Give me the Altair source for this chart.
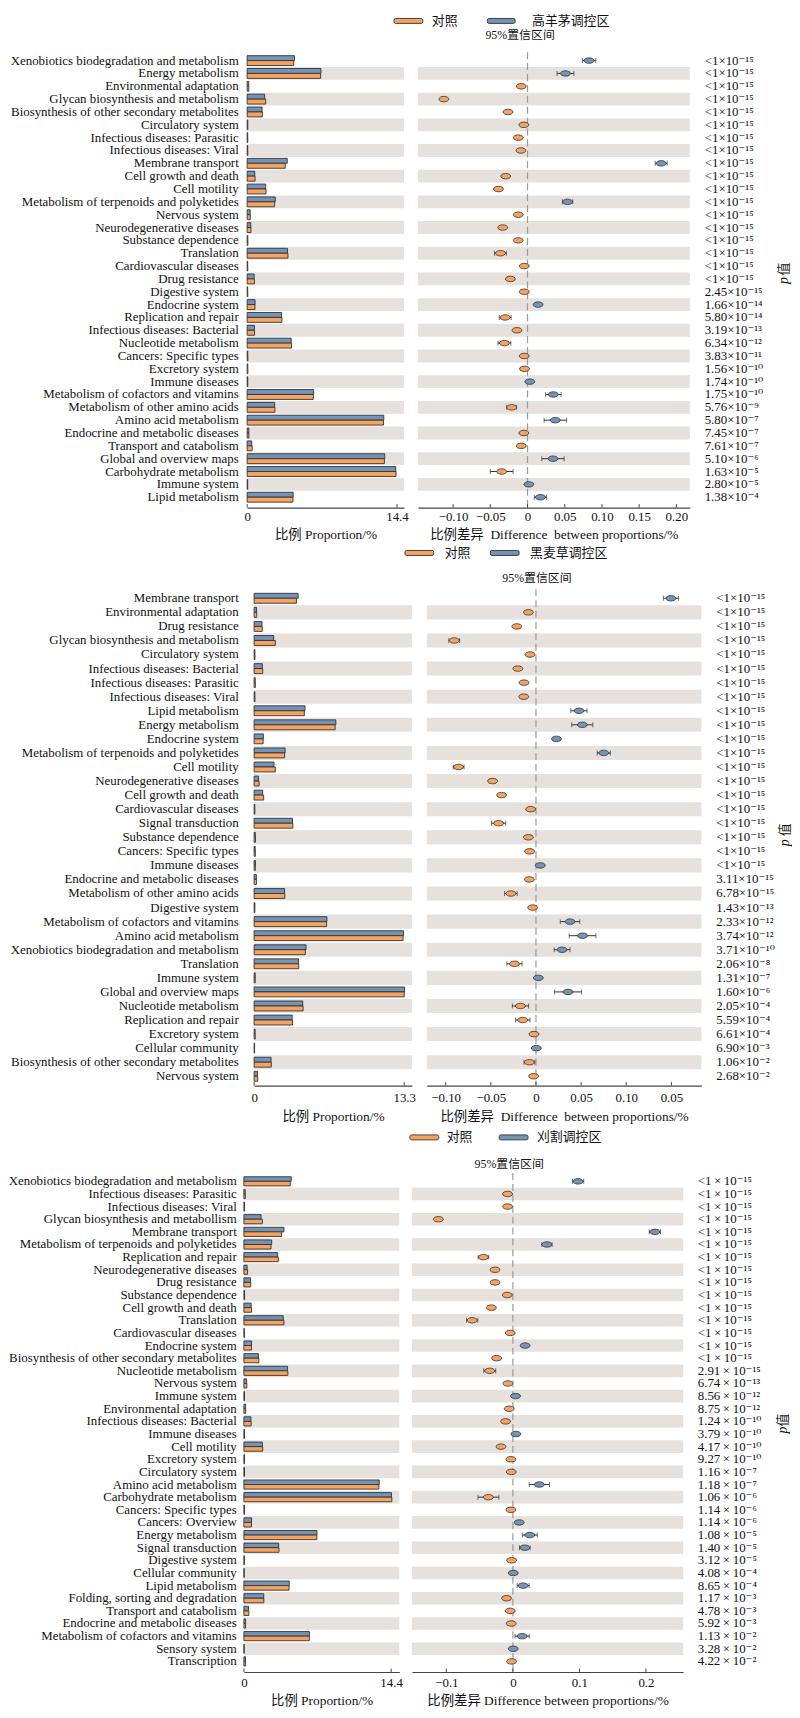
import altair as alt
import pandas as pd

SERIF = "Liberation Serif"
PFONT = "Liberation Serif, DejaVu Serif"
MIXED = "Liberation Serif, Noto Sans CJK SC"
CJK = "Noto Sans CJK SC"
ORANGE = "#F6A35F"
BLUE = "#7393B7"
EDGE = "#333333"
BAND = "#E6E1DD"
TXT = "#111111"
CTRL = "对照"
ELLIPSE = "M-1,0A1,0.55,0,1,0,1,0A1,0.55,0,1,0,-1,0Z"

# ---------------- panel 1 ----------------
group1 = "高羊茅调控区"
cats1 = ["Xenobiotics biodegradation and metabolism", "Energy metabolism", "Environmental adaptation",
         "Glycan biosynthesis and metabolism", "Biosynthesis of other secondary metabolites", "Circulatory system",
         "Infectious diseases: Parasitic", "Infectious diseases: Viral", "Membrane transport", "Cell growth and death",
         "Cell motility", "Metabolism of terpenoids and polyketides", "Nervous system", "Neurodegenerative diseases",
         "Substance dependence", "Translation", "Cardiovascular diseases", "Drug resistance", "Digestive system",
         "Endocrine system", "Replication and repair", "Infectious diseases: Bacterial", "Nucleotide metabolism",
         "Cancers: Specific types", "Excretory system", "Immune diseases", "Metabolism of cofactors and vitamins",
         "Metabolism of other amino acids", "Amino acid metabolism", "Endocrine and metabolic diseases",
         "Transport and catabolism", "Global and overview maps", "Carbohydrate metabolism", "Immune system",
         "Lipid metabolism"]
blue1 = [4.55, 7.09, 0.15, 1.68, 1.43, 0.06, 0.05, 0.05, 3.85, 0.73,
         1.78, 2.70, 0.29, 0.35, 0.06, 3.88, 0.05, 0.67, 0.05, 0.76,
         3.31, 0.70, 4.23, 0.06, 0.06, 0.06, 6.39, 2.64, 13.13, 0.16,
         0.44, 13.22, 14.28, 0.05, 4.42]
orange1 = [4.48, 7.06, 0.16, 1.78, 1.46, 0.06, 0.06, 0.06, 3.66, 0.76,
           1.81, 2.64, 0.30, 0.37, 0.07, 3.92, 0.06, 0.70, 0.06, 0.75,
           3.34, 0.71, 4.26, 0.07, 0.07, 0.06, 6.36, 2.67, 13.10, 0.17,
           0.48, 13.19, 14.31, 0.05, 4.40]
diff1 = [0.0827, 0.051, -0.0084, -0.1124, -0.0262, -0.0049, -0.0124, -0.0089, 0.1796, -0.0293,
         -0.039, 0.0538, -0.0124, -0.0333, -0.0124, -0.0364, -0.0044, -0.023, -0.0044, 0.0142,
         -0.030, -0.0142, -0.031, -0.0044, -0.004, 0.0031, 0.0347, -0.0213, 0.0373, -0.0049,
         -0.0084, 0.0342, -0.0347, 0.0018, 0.0173]
ci1 = [0.009, 0.0113, 0.002, 0.003, 0.003, 0.002, 0.002, 0.002, 0.008, 0.003,
       0.003, 0.007, 0.002, 0.003, 0.002, 0.008, 0.002, 0.003, 0.002, 0.003,
       0.008, 0.003, 0.0087, 0.002, 0.002, 0.002, 0.0104, 0.0067, 0.015, 0.002,
       0.003, 0.015, 0.0153, 0.002, 0.0082]
p1 = ["<1e-15"] * 18 + ["2.45e-15", "1.66e-14", "5.80e-14", "3.19e-13", "6.34e-12", "3.83e-11", "1.56e-10",
                        "1.74e-10", "1.75e-10", "5.76e-9", "5.80e-7", "7.45e-7", "7.61e-7", "5.10e-6",
                        "1.63e-5", "2.80e-5", "1.38e-4"]
bar_ticks1 = [0, 14.4]
bar_labels1 = ["0", "14.4"]
diff_ticks1 = [-0.10, -0.05, 0, 0.05, 0.10, 0.15, 0.20]
diff_labels1 = ["−0.10", "−0.05", "0", "0.05", "0.10", "0.15", "0.20"]

# ---------------- panel 2 ----------------
group2 = "黑麦草调控区"
cats2 = ["Membrane transport", "Environmental adaptation", "Drug resistance", "Glycan biosynthesis and metabolism",
         "Circulatory system", "Infectious diseases: Bacterial", "Infectious diseases: Parasitic",
         "Infectious diseases: Viral", "Lipid metabolism", "Energy metabolism", "Endocrine system",
         "Metabolism of terpenoids and polyketides", "Cell motility", "Neurodegenerative diseases",
         "Cell growth and death", "Cardiovascular diseases", "Signal transduction", "Substance dependence",
         "Cancers: Specific types", "Immune diseases", "Endocrine and metabolic diseases",
         "Metabolism of other amino acids", "Digestive system", "Metabolism of cofactors and vitamins",
         "Amino acid metabolism", "Xenobiotics biodegradation and metabolism", "Translation", "Immune system",
         "Global and overview maps", "Nucleotide metabolism", "Replication and repair", "Excretory system",
         "Cellular community", "Biosynthesis of other secondary metabolites", "Nervous system"]
blue2 = [3.90, 0.22, 0.70, 1.73, 0.07, 0.73, 0.10, 0.07, 4.51, 7.24,
         0.82, 2.75, 1.76, 0.38, 0.76, 0.06, 3.40, 0.11, 0.10, 0.12,
         0.20, 2.70, 0.07, 6.45, 13.24, 4.60, 3.93, 0.10, 13.33, 4.31,
         3.37, 0.09, 0.04, 1.50, 0.30]
orange2 = [3.75, 0.23, 0.72, 1.88, 0.08, 0.76, 0.11, 0.08, 4.45, 7.18,
           0.80, 2.70, 1.88, 0.44, 0.85, 0.07, 3.43, 0.12, 0.11, 0.11,
           0.21, 2.72, 0.07, 6.42, 13.20, 4.54, 3.95, 0.10, 13.30, 4.34,
           3.40, 0.10, 0.04, 1.52, 0.32]
diff2 = [0.1495, -0.0084, -0.0212, -0.0905, -0.0066, -0.0201, -0.0132, -0.0136, 0.0476, 0.0513,
         0.0227, 0.0751, -0.0857, -0.048, -0.0381, -0.0059, -0.0414, -0.0084, -0.007, 0.0048,
         -0.0073, -0.0278, -0.0037, 0.0377, 0.0516, 0.0289, -0.0238, 0.0026, 0.0355, -0.0172,
         -0.0147, -0.0022, 0.0004, -0.0073, -0.0026]
ci2 = [0.0084, 0.002, 0.003, 0.006, 0.002, 0.003, 0.002, 0.002, 0.009, 0.0117,
       0.003, 0.0073, 0.006, 0.003, 0.003, 0.002, 0.0079, 0.002, 0.002, 0.002,
       0.002, 0.0069, 0.002, 0.0108, 0.0148, 0.0088, 0.0084, 0.002, 0.015, 0.009,
       0.008, 0.002, 0.002, 0.006, 0.002]
p2 = ["<1e-15"] * 20 + ["3.11e-15", "6.78e-15", "1.43e-13", "2.33e-12", "3.74e-12", "3.71e-10", "2.06e-8",
                        "1.31e-7", "1.60e-6", "2.05e-4", "5.59e-4", "6.61e-4", "6.90e-3", "1.06e-2", "2.68e-2"]
bar_ticks2 = [0, 13.3]
bar_labels2 = ["0", "13.3"]
diff_ticks2 = [-0.10, -0.05, 0, 0.05, 0.10, 0.15]
diff_labels2 = ["−0.10", "−0.05", "0", "0.05", "0.10", "0.05"]

# ---------------- panel 3 ----------------
group3 = "刈割调控区"
cats3 = ["Xenobiotics biodegradation and metabolism", "Infectious diseases: Parasitic", "Infectious diseases: Viral",
         "Glycan biosynthesis and metabollism", "Membrane transport", "Metabolism of terpenoids and polyketides",
         "Replication and repair", "Neurodegenerative diseases", "Drug resistance", "Substance dependence",
         "Cell growth and death", "Translation", "Cardiovascular diseases", "Endocrine system",
         "Biosynthesis of other secondary metabolites", "Nucleotide metabolism", "Nervous system", "Immune system",
         "Environmental adaptation", "Infectious diseases: Bacterial", "Immune diseases", "Cell motility",
         "Excretory system", "Circulatory system", "Amino acid metabolism", "Carbohydrate metabolism",
         "Cancers: Specific types", "Cancers: Overview", "Energy metabolism", "Signal transduction",
         "Digestive system", "Cellular community", "Lipid metabolism", "Folding, sorting and degradation",
         "Transport and catabolism", "Endocrine and metabolic diseases", "Metabolism of cofactors and vitamins",
         "Sensory system", "Transcription"]
blue3 = [4.63, 0.13, 0.06, 1.68, 3.92, 2.72, 3.30, 0.32, 0.65, 0.06,
         0.71, 3.85, 0.04, 0.75, 1.42, 4.27, 0.27, 0.06, 0.17, 0.69,
         0.06, 1.81, 0.06, 0.06, 13.24, 14.43, 0.06, 0.75, 7.15, 3.40,
         0.05, 0.03, 4.43, 1.94, 0.45, 0.17, 6.41, 0.03, 0.16]
orange3 = [4.53, 0.14, 0.07, 1.81, 3.69, 2.65, 3.37, 0.36, 0.67, 0.07,
           0.75, 3.92, 0.05, 0.74, 1.46, 4.30, 0.29, 0.06, 0.18, 0.71,
           0.06, 1.84, 0.06, 0.06, 13.20, 14.47, 0.06, 0.74, 7.13, 3.43,
           0.05, 0.03, 4.42, 1.95, 0.48, 0.17, 6.40, 0.03, 0.16]
diff3 = [0.098, -0.008, -0.008, -0.112, 0.2134, 0.0512, -0.0443, -0.0269, -0.0269, -0.0085,
         -0.0323, -0.0612, -0.004, 0.0184, -0.0244, -0.0348, -0.0075, 0.004, -0.0055, -0.011,
         0.0045, -0.0179, -0.003, -0.0025, 0.0398, -0.0368, -0.003, 0.0095, 0.0254, 0.0179,
         -0.002, 0.0005, 0.0154, -0.0095, -0.004, -0.0025, 0.0139, 0.0005, -0.002]
ci3 = [0.0085, 0.002, 0.002, 0.003, 0.0085, 0.0077, 0.008, 0.003, 0.003, 0.002,
       0.003, 0.0085, 0.002, 0.003, 0.003, 0.009, 0.002, 0.002, 0.002, 0.002,
       0.002, 0.003, 0.002, 0.002, 0.0152, 0.0157, 0.002, 0.003, 0.0112, 0.008,
       0.002, 0.002, 0.009, 0.003, 0.002, 0.002, 0.0107, 0.002, 0.002]
p3 = ["<1e-15"] * 15 + ["2.91e-15", "6.74e-13", "8.56e-12", "8.75e-12", "1.24e-10", "3.79e-10", "4.17e-10",
                        "9.27e-10", "1.16e-7", "1.18e-7", "1.06e-6", "1.14e-6", "1.14e-6", "1.08e-5", "1.40e-5",
                        "3.12e-5", "4.08e-4", "8.65e-4", "1.17e-3", "4.78e-3", "5.92e-3", "1.13e-2", "3.28e-2",
                        "4.22e-2"]
bar_ticks3 = [0, 14.4]
bar_labels3 = ["0", "14.4"]
diff_ticks3 = [-0.1, 0, 0.1, 0.2]
diff_labels3 = ["−0.1", "0", "0.1", "0.2"]

BAR_TITLE = "比例 Proportion/%"
DIFF_TITLE_A = "比例差异\u00a0 Difference\u00a0 between proportions/%"
DIFF_TITLE_B = "比例差异 Difference between proportions/%"
CI_TITLE = "95%置信区间"
P_AXIS = ("p", "值")

SUP = str.maketrans("-0123456789", "⁻⁰¹²³⁴⁵⁶⁷⁸⁹")


def p_text(s, sep=""):
    less = s.startswith("<")
    mant, exp = s.lstrip("<").split("e")
    return ("<" if less else "") + mant + sep + "×" + sep + "10" + exp.translate(SUP)


def label_expr(vals, labels):
    expr = "''"
    for v, l in reversed(list(zip(vals, labels))):
        expr = f"abs(datum.value - ({v})) < 1e-6 ? '{l}' : {expr}"
    return expr


W = 462


def section(cats, blue, orange, diff, ci, pvals, grp, bticks, blabels, dticks, dlabels, L):
    n = len(cats)
    rows = pd.DataFrame({
        "cat": cats,
        "diff": diff,
        "lo": [d - c for d, c in zip(diff, ci)],
        "hi": [d + c for d, c in zip(diff, ci)],
        "p": [p_text(p, L["sep"]) for p in pvals],
        "win": [grp if d > 0 else CTRL for d in diff],
    })
    band_rows = rows.iloc[1::2]
    bars = pd.DataFrame({"cat": list(cats) + list(cats),
                         "grp": [grp] * n + [CTRL] * n,
                         "slot": ["a"] * n + ["b"] * n,
                         "val": list(blue) + list(orange)})
    ay = L["h"] + L["off"]
    cscale = alt.Scale(domain=[CTRL, grp], range=[ORANGE, BLUE])

    Y = alt.Y("cat:N",
              scale=alt.Scale(domain=list(cats), range=[0, L["R"]], paddingInner=0, paddingOuter=0),
              axis=alt.Axis(orient="left", ticks=False, domain=False, labelFont=SERIF, labelFontSize=13,
                            labelColor=TXT, labelLimit=400, labelPadding=L["ylp"], labelOverlap=False),
              title=None)

    def xaxis(vals, labels, title):
        return alt.Axis(orient="bottom", values=vals, labelExpr=label_expr(vals, labels), title=title,
                        offset=L["off"], ticks=False, grid=False, domainColor="#444", domainWidth=1.2,
                        labelFont=SERIF, labelFontSize=13, labelColor=TXT, labelPadding=L["xlp"],
                        labelFlush=False, labelOverlap=False, titleFont=MIXED, titleFontSize=13.5,
                        titleFontWeight="normal", titleColor=TXT, titlePadding=L["xtp"])

    bax = xaxis(bticks, blabels, BAR_TITLE)
    bsc = alt.Scale(domain=[0, L["bmax"]], range=L["brange"], nice=False, zero=False)
    dax = xaxis(dticks, dlabels, L["dtitle"])
    dsc = alt.Scale(domain=[L["dmin"], L["dmax"]], range=L["drange"], nice=False, zero=False)

    # ---- proportion bars ----
    b_bands = alt.Chart(band_rows).mark_rect(color=BAND).encode(
        x=alt.XDatum(0, scale=bsc, axis=bax, type="quantitative"), x2=alt.X2Datum(L["bmax"]), y=Y)
    b_bars = alt.Chart(bars).mark_bar(stroke=EDGE, strokeWidth=0.9).encode(
        x=alt.X("val:Q", scale=bsc, axis=bax), y=Y,
        yOffset=alt.YOffset("slot:N", scale=alt.Scale(domain=["a", "b"], paddingInner=0,
                                                      paddingOuter=L["bpad"])),
        color=alt.Color("grp:N", scale=cscale, legend=None))
    b_ticks = alt.Chart(pd.DataFrame({"t": bticks})).mark_rule(color="#444", strokeWidth=1).encode(
        x=alt.X("t:Q", scale=bsc, axis=bax), y=alt.value(ay - 3.5), y2=alt.value(ay))
    bar_group = alt.layer(b_bands, b_bars, b_ticks)

    # ---- difference / CI ----
    d_bands = alt.Chart(band_rows).mark_rect(color=BAND).encode(
        x=alt.XDatum(L["dmin"], scale=dsc, axis=dax, type="quantitative"), x2=alt.X2Datum(L["dmax"]), y=Y)
    d_zero = alt.Chart(pd.DataFrame({"z": [0.0]})).mark_rule(
        color="#9a9a9a", strokeWidth=1.2, strokeDash=[7, 4]).encode(
        x=alt.X("z:Q", scale=dsc, axis=dax), y=alt.value(-2), y2=alt.value(ay))
    d_err = alt.Chart(rows).mark_rule(color=EDGE, strokeWidth=1).encode(
        x=alt.X("lo:Q", scale=dsc, axis=dax), x2="hi:Q", y=Y)
    d_cap_lo = alt.Chart(rows).mark_tick(color=EDGE, thickness=1, size=5).encode(
        x=alt.X("lo:Q", scale=dsc, axis=dax), y=Y)
    d_cap_hi = alt.Chart(rows).mark_tick(color=EDGE, thickness=1, size=5).encode(
        x=alt.X("hi:Q", scale=dsc, axis=dax), y=Y)
    d_pts = alt.Chart(rows).mark_point(shape=ELLIPSE, size=100, filled=True, opacity=1,
                                       stroke=EDGE, strokeWidth=0.8).encode(
        x=alt.X("diff:Q", scale=dsc, axis=dax), y=Y,
        color=alt.Color("win:N", scale=cscale, legend=None))
    d_ticks = alt.Chart(pd.DataFrame({"t": dticks})).mark_rule(color="#444", strokeWidth=1).encode(
        x=alt.X("t:Q", scale=dsc, axis=dax), y=alt.value(ay - 3.5), y2=alt.value(ay))
    d_p = alt.Chart(rows).mark_text(align="left", baseline="middle", font=PFONT, fontSize=13,
                                    color=TXT).encode(x=alt.value(L["px"]), y=Y, text="p:N")
    pv_p = alt.Chart(pd.DataFrame({"t": [P_AXIS[0]]})).mark_text(
        angle=270, font=SERIF, fontSize=14, fontStyle="italic", color=TXT).encode(
        x=alt.value(L["plx"]), y=alt.value(L["p_y"]), text="t:N")
    pv_z = alt.Chart(pd.DataFrame({"t": [P_AXIS[1]]})).mark_text(
        angle=270, font=CJK, fontSize=13, color=TXT).encode(
        x=alt.value(L["plx"]), y=alt.value(L["z_y"]), text="t:N")

    legend_layers = []
    ly = L["ly"]
    for g, (sx0, sx1, tx) in zip([CTRL, grp], L["leg"]):
        gdf = pd.DataFrame({"g": [g]})
        legend_layers.append(alt.Chart(gdf).mark_rect(stroke=EDGE, strokeWidth=0.9, cornerRadius=1.5).encode(
            x=alt.value(sx0), x2=alt.value(sx1), y=alt.value(ly - 2.5), y2=alt.value(ly + 2.5),
            color=alt.Color("g:N", scale=cscale, legend=None)))
        legend_layers.append(alt.Chart(gdf).mark_text(align="left", baseline="middle", font=MIXED,
                                                      fontSize=13, color=TXT).encode(
            x=alt.value(tx), y=alt.value(ly), text="g:N"))
    ci_t = alt.Chart(pd.DataFrame({"t": [CI_TITLE]})).mark_text(
        font=MIXED, fontSize=12, color=TXT, baseline="middle").encode(
        x=alt.value(L["cix"]), y=alt.value(L["ciy"]), text="t:N")

    diff_group = alt.layer(d_bands, d_zero, d_err, d_cap_lo, d_cap_hi, d_pts, d_ticks, d_p,
                           pv_p, pv_z, *legend_layers, ci_t)

    return alt.layer(bar_group, diff_group).resolve_scale(x="independent").properties(
        width=W, height=L["h"])


L1 = dict(R=452.9, h=451.4, off=5.5, ylp=5, xlp=3.5, xtp=3.75, bpad=0.3,
          bmax=15.07, brange=[4, 162], dmin=-0.1473, dmax=0.218, drange=[176, 450],
          dtitle=DIFF_TITLE_A, sep="", px=465, plx=545, p_y=228, z_y=216.5,
          ly=-33.5, leg=[(152, 181, 190), (246, 274, 291)], cix=279, ciy=-19)
L2 = dict(R=495.8, h=498.1, off=0, ylp=5, xlp=5.8, xtp=5.75, bpad=0.42,
          bmax=13.98, brange=[11, 170], dmin=-0.1209, dmax=0.1832, drange=[185, 461.7],
          dtitle=DIFF_TITLE_A, sep="", px=476.7, plx=545.7, p_y=253.4, z_y=240.4,
          ly=-38.6, leg=[(163, 192, 203), (249, 278, 289)], cix=296, ciy=-13.6)
L3 = dict(R=496.5, h=496.5, off=4.3, ylp=7, xlp=4.8, xtp=3.75, bpad=0.38,
          bmax=15.2, brange=[0.7, 157.3], dmin=-0.1518, dmax=0.2559, drange=[170, 443.3],
          dtitle=DIFF_TITLE_B, sep="\u2009", px=458, plx=544, p_y=257, z_y=247,
          ly=-37.9, leg=[(168, 197, 205), (258, 287, 296)], cix=268, ciy=-10.9)

sec1 = section(cats1, blue1, orange1, diff1, ci1, p1, group1, bar_ticks1, bar_labels1,
               diff_ticks1, diff_labels1, L1)
sec2 = section(cats2, blue2, orange2, diff2, ci2, p2, group2, bar_ticks2, bar_labels2,
               diff_ticks2, diff_labels2, L2)
sec3 = section(cats3, blue3, orange3, diff3, ci3, p3, group3, bar_ticks3, bar_labels3,
               diff_ticks3, diff_labels3, L3)

chart = alt.vconcat(sec1, sec2, sec3, spacing=89.2, bounds="flush", padding=0,
                    background="white").resolve_scale(
    color="independent", yOffset="independent").configure_view(stroke=None)

chart.save("out.html", embed_options={"renderer": "svg", "actions": False})
